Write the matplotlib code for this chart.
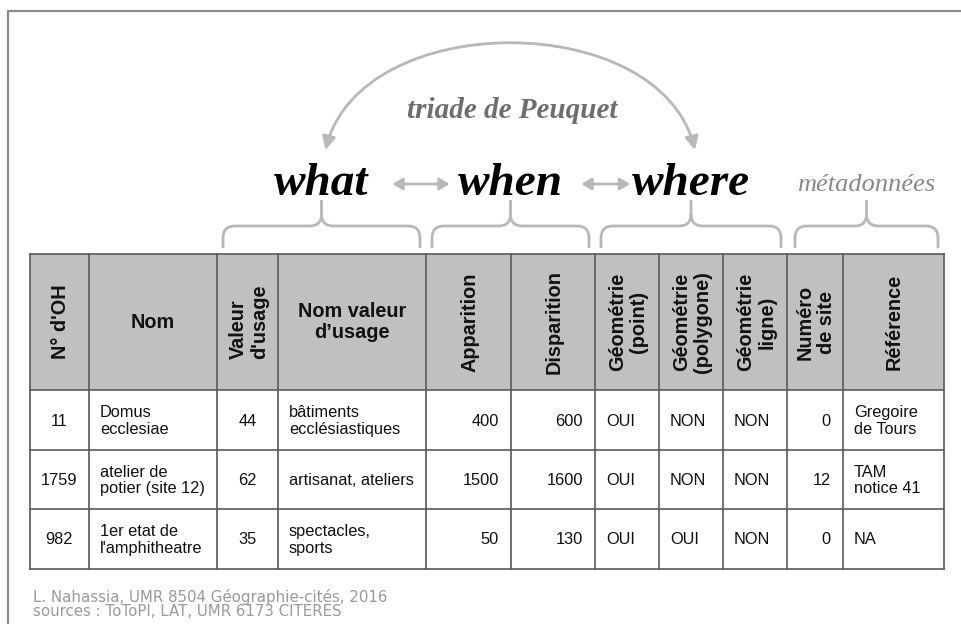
import matplotlib
matplotlib.use("Agg")
import matplotlib.pyplot as plt
from matplotlib.patches import Rectangle, FancyArrowPatch, PathPatch
from matplotlib.path import Path

# --- table content ---
headers = ["N° d'OH", "Nom", "Valeur\nd'usage", "Nom valeur\nd\u2019usage", "Apparition",
           "Disparition", "Géométrie\n(point)", "Géométrie\n(polygone)", "Géométrie\nligne)",
           "Numéro\nde site", "Référence"]
header_rot = [90, 0, 90, 0, 90, 90, 90, 90, 90, 90, 90]
id_oh = ["11", "1759", "982"]
noms = ["Domus\necclesiae", "atelier de\npotier (site 12)", "1er etat de\nl'amphitheatre"]
valeur_usage = [44, 62, 35]
nom_valeur = ["bâtiments\necclésiastiques", "artisanat, ateliers", "spectacles,\nsports"]
apparition = [400, 1500, 50]
disparition = [600, 1600, 130]
geom_point = ["OUI", "OUI", "OUI"]
geom_polygone = ["NON", "NON", "OUI"]
geom_ligne = ["NON", "NON", "NON"]
numero_site = [0, 12, 0]
reference = ["Gregoire\nde Tours", "TAM\nnotice 41", "NA"]
col_align = ['center', 'left', 'center', 'left', 'right', 'right',
             'left', 'left', 'left', 'right', 'left']

groups = ["what", "when", "where"]
group_cols = [(2, 4), (4, 6), (6, 9)]
meta_label = "métadonnées"
meta_cols = (9, 11)
arc_label = "triade de Peuquet"
credits = ["L. Nahassia, UMR 8504 Géographie-cités, 2016",
           "sources : ToToPI, LAT, UMR 6173 CITERES"]

# --- layout (pixels) ---
col_x = [30, 89, 217, 278, 426, 511, 595, 659, 723, 787, 843, 944]
row_y = [254, 390, 450, 509, 569]
head_fill = "#c0c0c0"
line_col = "#5a5a5a"
soft = "#b8b8b8"

fig = plt.figure(figsize=(9.61, 6.24), dpi=100)
ax = fig.add_axes([0, 0, 1, 1])
ax.set_xlim(0, 961)
ax.set_ylim(624, 0)
ax.axis('off')

# outer frame (top and left only visible)
ax.plot([8, 8, 961], [624, 11, 11], color="#8a8a8a", lw=1.6, solid_capstyle='butt')

# header cells
for i in range(len(headers)):
    ax.add_patch(Rectangle((col_x[i], row_y[0]), col_x[i + 1] - col_x[i], row_y[1] - row_y[0],
                           facecolor=head_fill, edgecolor='none'))
# grid lines
for x in col_x:
    ax.plot([x, x], [row_y[0], row_y[-1]], color=line_col, lw=1.2)
for y in row_y:
    ax.plot([col_x[0], col_x[-1]], [y, y], color=line_col, lw=1.2)

# header text
hy = (row_y[0] + row_y[1]) / 2
for i, h in enumerate(headers):
    cx = (col_x[i] + col_x[i + 1]) / 2 + (1 if header_rot[i] else 0)
    ma = 'left' if i == 2 else 'center'
    ax.text(cx, hy, h, rotation=header_rot[i], ha='center', va='center', multialignment=ma,
            fontsize=14.3, fontweight='bold', family='Liberation Sans', color='#111111',
            linespacing=1.15)

# body
columns = [id_oh, noms, valeur_usage, nom_valeur, apparition, disparition,
           geom_point, geom_polygone, geom_ligne, numero_site, reference]
pad = 11
for r in range(len(id_oh)):
    cy = (row_y[r + 1] + row_y[r + 2]) / 2 + 1
    for c, col in enumerate(columns):
        a = col_align[c]
        if a == 'left':
            x = col_x[c] + pad
        elif a == 'right':
            x = col_x[c + 1] - pad - 1
        else:
            x = (col_x[c] + col_x[c + 1]) / 2
        ax.text(x, cy, str(col[r]), ha=a, va='center', fontsize=11.8,
                family='Liberation Sans', color='#111111', linespacing=1.12)


def brace(x0, x1, yb=248, ym=226, yt=200, r=12):
    xc = (x0 + x1) / 2
    verts = [(x0, yb), (x0, ym + r), (x0, ym), (x0 + r, ym), (xc - r, ym),
             (xc, ym), (xc, ym - r), (xc, yt),
             (xc, ym - r), (xc, ym), (xc + r, ym), (x1 - r, ym),
             (x1, ym), (x1, ym + r), (x1, yb)]
    codes = [Path.MOVETO, Path.LINETO, Path.CURVE3, Path.CURVE3, Path.LINETO,
             Path.CURVE3, Path.CURVE3, Path.LINETO,
             Path.MOVETO, Path.CURVE3, Path.CURVE3, Path.LINETO,
             Path.CURVE3, Path.CURVE3, Path.LINETO]
    ax.add_patch(PathPatch(Path(verts, codes), facecolor='none', edgecolor=soft, lw=2))
    return xc


word_x = []
for g, (a, b) in zip(groups, group_cols):
    xc = brace(col_x[a] + 6, col_x[b] - 6)
    word_x.append(xc)
    ax.text(xc, 184, g, ha='center', va='center', fontsize=34, fontweight='bold',
            style='italic', family='Liberation Serif', color='black')

xm = brace(col_x[meta_cols[0]] + 8, col_x[meta_cols[1]] - 6)
ax.text(xm, 185, meta_label, ha='center', va='center', fontsize=19, style='italic',
        family='Liberation Serif', color='#888888')

# double arrows between the words
for i in range(len(word_x) - 1):
    x0 = word_x[i] + 68
    x1 = word_x[i + 1] - 58
    ax.add_patch(FancyArrowPatch((x0, 184), (x1, 184), arrowstyle='<|-|>,head_length=6,head_width=3.5',
                                 color=soft, lw=2, mutation_scale=1))

# arc what -> where
p0 = (word_x[0] + 4, 150)
p3 = (word_x[2] + 4, 150)
arc = Path([p0, (p0[0] + 35, 8), (p3[0] - 35, 8), p3],
           [Path.MOVETO, Path.CURVE4, Path.CURVE4, Path.CURVE4])
ax.add_patch(FancyArrowPatch(path=arc, arrowstyle='<|-|>,head_length=8,head_width=4',
                             color=soft, lw=2, mutation_scale=1))
ax.text((p0[0] + p3[0]) / 2 + 2, 111, arc_label, ha='center', va='center', fontsize=21,
        style='italic', fontweight='bold', family='Liberation Serif', color='#6e6e6e')

# credits
ax.text(33, 604, "\n".join(credits), ha='left', va='center', fontsize=10.8,
        family='DejaVu Sans', color='#9a9a9a', linespacing=0.9)

fig.savefig("out.png", dpi=100, facecolor='white')
